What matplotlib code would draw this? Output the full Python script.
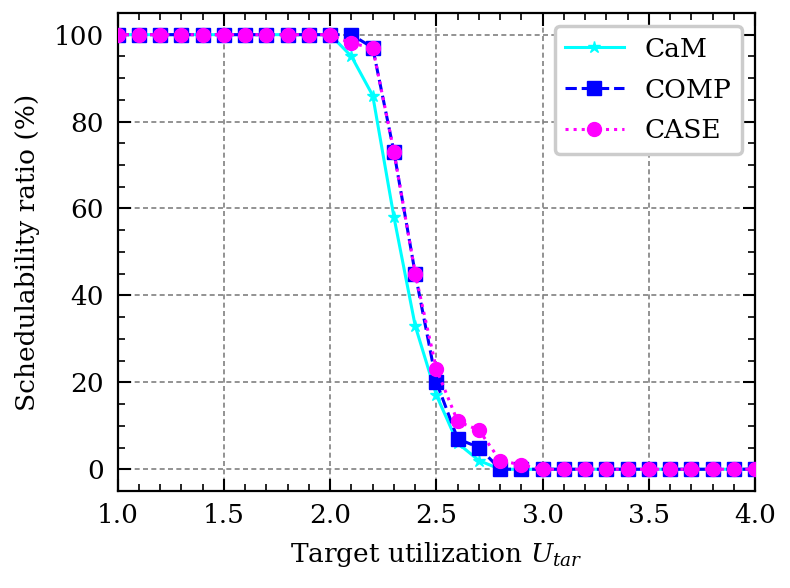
import matplotlib
matplotlib.use("Agg")
import matplotlib.pyplot as plt
from matplotlib.ticker import MultipleLocator

plt.rcParams['font.family'] = ['DejaVu Serif']
plt.rcParams['mathtext.fontset'] = 'dejavuserif'

x = [1.0, 1.1, 1.2, 1.3, 1.4, 1.5, 1.6, 1.7, 1.8, 1.9, 2.0, 2.1, 2.2, 2.3, 2.4, 2.5,
     2.6, 2.7, 2.8, 2.9, 3.0, 3.1, 3.2, 3.3, 3.4, 3.5, 3.6, 3.7, 3.8, 3.9, 4.0]
cam = [100, 100, 100, 100, 100, 100, 100, 100, 100, 100, 100, 95, 86, 58, 33, 17,
       6, 2, 0, 0, 0, 0, 0, 0, 0, 0, 0, 0, 0, 0, 0]
comp = [100, 100, 100, 100, 100, 100, 100, 100, 100, 100, 100, 100, 97, 73, 45, 20,
        7, 5, 0, 0, 0, 0, 0, 0, 0, 0, 0, 0, 0, 0, 0]
case = [100, 100, 100, 100, 100, 100, 100, 100, 100, 100, 100, 98, 97, 73, 45, 23,
        11, 9, 2, 1, 0, 0, 0, 0, 0, 0, 0, 0, 0, 0, 0]

FS = 19

fig = plt.figure(figsize=(7.9, 5.88), dpi=100)
ax = fig.add_axes([0.149, 0.165, 0.807, 0.813])

ax.plot(x, cam, color='#00FFFF', linestyle='-', marker='*', markersize=9, linewidth=2.2, label='CaM', zorder=3)
ax.plot(x, comp, color='#0000FF', linestyle='--', marker='s', markersize=9.5, linewidth=2.2, label='COMP', zorder=4)
ax.plot(x, case, color='#FF00FF', linestyle=':', marker='o', markersize=10, linewidth=2.2, label='CASE', zorder=5)

ax.set_xlim(1.0, 4.0)
ax.set_ylim(-5, 105)
ax.xaxis.set_major_locator(MultipleLocator(0.5))
ax.xaxis.set_minor_locator(MultipleLocator(0.1))
ax.yaxis.set_major_locator(MultipleLocator(20))
ax.yaxis.set_minor_locator(MultipleLocator(5))
ax.tick_params(which='both', direction='in', top=True, right=True, labelsize=FS)
ax.tick_params(which='major', length=9, width=1.5)
ax.tick_params(which='minor', length=5, width=1.2)
ax.tick_params(axis='x', which='major', pad=9)
ax.tick_params(axis='y', which='major', pad=10)
for s in ax.spines.values():
    s.set_linewidth(1.6)
ax.grid(True, which='major', linestyle=(0, (3, 2)), color='0.5', linewidth=1.2)

ax.set_xlabel('Target utilization $U_{tar}$', fontsize=FS, labelpad=8)
ax.set_ylabel('Schedulability ratio (%)', fontsize=FS, labelpad=10)

leg = ax.legend(loc='upper right', fontsize=FS, fancybox=True, framealpha=1,
                handlelength=2.2, labelspacing=0.6)
leg.get_frame().set_edgecolor('0.8')
leg.get_frame().set_linewidth(2.5)

fig.savefig('out.png', dpi=100)
